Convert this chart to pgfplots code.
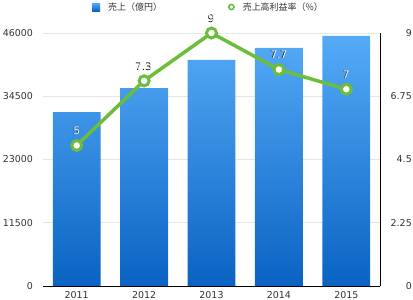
\documentclass[border=0pt]{standalone}
\usepackage{fontspec}
\setmainfont{DejaVu Sans}
\newfontfamily\jp{Noto Sans CJK JP}
\usepackage{pgfplots}
\pgfplotsset{compat=1.18}
\usepackage{pgfplotstable}
\definecolor{bartop}{HTML}{55ABF7}
\definecolor{barbot}{HTML}{0A63C2}
\definecolor{lgreen}{HTML}{6CBD3A}
\definecolor{gridc}{HTML}{E6E6E6}
\definecolor{txt}{HTML}{333333}

\pgfplotstableread{
x sales rate
0 31600 5
1 36000 7.3
2 41100 9
3 43300 7.7
4 45500 7
}\data

\begin{document}
\begin{tikzpicture}
\useasboundingbox (0,0) rectangle (413bp,300bp);
\begin{axis}[
 at={(43bp,14bp)}, anchor=south west,
 width=337bp, height=253bp, scale only axis,
 xmin=-0.5, xmax=4.5, ymin=0, ymax=46000,
 xtick=data, xticklabels={2011,2012,2013,2014,2015},
 ytick={0,11500,23000,34500,46000},
 scaled y ticks=false,
 /pgf/number format/1000 sep={},
 /pgf/number format/assume math mode=true,
 axis x line*=bottom, axis y line*=left,
 y axis line style={draw=none},
 x axis line style={black, line width=0.8bp},
 major tick length=0,
 ymajorgrids, grid style={gridc, line width=0.8bp},
 tick label style={font=\fontsize{9.5}{11}\selectfont, text=txt},
 yticklabel style={xshift=-6.5bp},
 xticklabel style={yshift=-1.5bp},
]
\addplot[ybar, bar width=0.71, draw=none, top color=bartop, bottom color=barbot] table[x=x,y=sales]{\data};
\end{axis}
\begin{axis}[
 at={(43bp,14bp)}, anchor=south west,
 width=337bp, height=253bp, scale only axis,
 xmin=-0.5, xmax=4.5, ymin=0, ymax=9,
 ytick={0,2.25,4.5,6.75,9},
 axis x line=none, axis y line*=right,
 y axis line style={black, line width=0.8bp},
 major tick length=0,
 clip=false,
 /pgf/number format/assume math mode=true,
 tick label style={font=\fontsize{9.5}{11}\selectfont, text=txt},
 yticklabel style={anchor=east, xshift=35.3bp},
 legend cell align=left,
 legend style={at={(0.1454,1)}, anchor=west, yshift=26bp, draw=none, fill=none, inner sep=0pt,
   legend columns=2, font=\jp\fontsize{9}{10}\selectfont, text=txt,
   nodes={inner xsep=0pt, inner ysep=1pt},
   /tikz/every odd column/.append style={column sep=8bp},
   /tikz/every even column/.append style={column sep=66bp}},
]
\addlegendimage{legend image code/.code={\shade[draw=none, top color=bartop, bottom color=barbot] (0bp,-4bp) rectangle (8bp,4bp);}}
\addlegendentry{売上（億円）}
\addplot[lgreen, line width=3.5bp, mark=*, mark size=5bp, mark options={fill=white, line width=3bp},
  legend image code/.code={\draw[lgreen, line width=1.6bp, fill=white] (3.5bp,0) circle (2.6bp);}]
  table[x=x,y=rate]{\data};
\addlegendentry{売上高利益率（\%）}
\addplot[draw=none, mark=none, forget plot, nodes near coords, point meta=explicit symbolic,
  every node near coord/.append style={font=\fontsize{10.5}{12}\selectfont, text=black, anchor=center, xshift=-0.6bp, yshift=14.4bp}]
  table[x=x,y=rate,meta=rate]{\data};
\addplot[draw=none, mark=none, forget plot, nodes near coords, point meta=explicit symbolic,
  every node near coord/.append style={font=\fontsize{10.5}{12}\selectfont, text=white, anchor=center, yshift=15bp}]
  table[x=x,y=rate,meta=rate]{\data};
\end{axis}
\end{tikzpicture}
\end{document}
